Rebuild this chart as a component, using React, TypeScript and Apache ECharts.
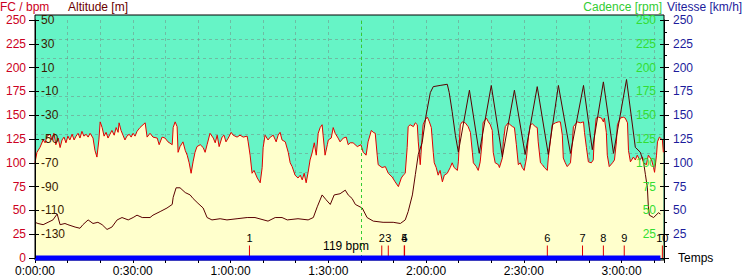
import React, { useEffect, useRef } from "react";
import * as echarts from "echarts";

// Time in minutes, heart rate in bpm
const hrPoints: [number, number][] = [
  [0,100],[0.6,111],[1.5,116],[2.5,124],[3.1,121],[3.7,128],[4.6,130],[5.2,124],[5.8,131],[6.4,119],[7.1,126],[7.7,116],[8.3,124],[8.9,127],[9.5,121],[10.1,128],[10.7,124],[11.4,130],[12.0,124],[12.6,128],[13.2,131],[13.8,126],[14.4,133],[15.0,128],[15.7,130],[16.3,127],[16.9,131],[17.8,126],[18.4,113],[19.0,106],[19.6,124],[20.0,143],[20.6,137],[21.2,128],[21.8,132],[22.4,126],[23.0,130],[23.6,134],[24.3,129],[24.9,137],[25.5,132],[25.8,142],[26.4,134],[27.0,129],[27.6,124],[28.2,128],[28.9,130],[29.5,127],[30.1,131],[30.7,128],[31.3,133],[32.2,137],
  [33.8,142],[34.4,127],[35.3,131],[36.2,127],[37.5,126],[38.1,119],[39.0,127],[39.9,126],[40.8,122],[42.1,119],[42.4,137],[43.0,143],[43.6,138],[43.9,111],[44.5,117],[45.4,122],[46.1,113],[46.7,108],[47.3,100],[47.9,89],[48.5,101],[49.1,111],[49.7,117],[50.7,119],[51.6,116],[52.2,111],[52.8,119],[53.7,131],[54.7,126],[55.3,121],[55.9,129],[56.5,117],[57.4,127],[58.0,129],[58.6,122],[59.3,126],[60.2,132],[60.8,129],[62.0,127],[62.9,129],[63.9,127],[65.1,128],
  [65.4,122],[66.0,108],[66.6,89],[67.2,92],[68.2,84],[69.1,79],[69.7,95],[70.0,116],[70.6,129],[71.5,124],[72.2,127],[73.1,129],[74.0,122],[74.6,129],[75.2,132],[75.8,124],[76.8,122],[77.7,111],[78.3,100],[78.9,96],[79.8,87],[80.7,84],[81.4,87],[82.0,82],[82.6,89],[83.2,79],[83.8,90],[84.4,103],[85.0,110],[85.7,121],[86.3,108],[86.9,131],[87.5,137],[88.1,140],[88.4,129],[89.0,108],[89.7,119],[90.0,124],[90.9,126],[91.5,137],[92.1,131],[93.0,126],[93.6,122],[94.6,126],[95.5,127],[96.1,119],[96.7,121],
  [97.6,121],[98.9,117],[100,119],[100.7,111],[101.6,108],[102.2,122],[103.2,134],[103.8,132],[104.4,131],[105.0,108],[105.3,98],[106.5,95],[107.5,96],[108.4,89],[109.6,85],[110.5,80],[111.5,75],[112.4,84],[113.0,87],[113.6,89],[114.2,116],[114.5,138],[115.1,140],[116.1,138],[116.7,142],[117.3,140],[117.6,122],[118.2,98],[118.8,127],[119.1,140],[119.7,145],[120.4,148],[121.0,143],[121.6,137],[122.2,111],[122.5,100],[123.1,95],[123.7,87],[124.3,92],[125.0,80],[125.6,87],[126.5,89],[127.4,95],[128.0,100],[128.6,95],[129.6,92],
  [129.9,101],[130.5,140],[131.1,143],[132.0,142],[132.9,138],[133.6,132],[134.2,111],[134.5,100],[135.4,96],[136.0,92],[136.6,101],[137.2,122],[137.5,142],[138.5,147],[139.1,143],[139.7,140],[140.3,134],[140.6,111],[141.2,100],[142.2,98],[142.5,95],[143.4,105],[143.7,122],[144.3,138],[145.2,142],[145.8,140],[146.5,138],[147.1,137],[147.7,119],[148.3,98],[148.9,100],[149.5,95],[150.1,92],[150.8,105],[151.4,127],[152.0,140],[152.6,141],[153.5,138],[154.1,137],[154.4,122],[155.1,100],[155.7,98],[156.3,95],[157.2,92],[157.5,105],[158.1,122],[158.7,140],[159.7,142],[160.6,143],[161.2,143],[161.8,129],[162.1,105],[162.7,100],[163.3,96],[164.3,100],[164.9,122],[165.2,138],[166.4,143],[167.3,142],[168.3,143],[168.6,132],[169.2,116],[169.8,101],[170.7,100],[171.3,103],[171.6,126],[172.2,147],[172.9,148],[173.8,147],[174.4,143],[174.7,147],[175.3,132],[175.6,108],[176.2,96],[177.2,100],[177.8,103],[178.4,122],[178.7,140],[179.6,147],[180.5,148],[181.1,147],[181.8,142],[182.1,113],[182.7,101],[183.6,106],[184.2,103],[184.8,108],[185.5,103],[186.4,106],[186.7,100],[187.6,98],[188.2,108],[189.2,103],[189.8,95],[190.1,90],[190.7,108],[191.0,122],[191.6,127],[192.5,124],[192.8,111]
];

// Time in minutes, altitude in metres
const altitudePoints: [number, number][] = [
  [0,-120],[0.9,-121],[2.5,-122],[4.0,-120],[5.5,-118],[6.8,-113],[7.7,-122],[9.2,-121],[10.1,-122],[12.3,-124],[13.8,-125],[14.7,-122],[16.3,-118],[17.8,-121],[19.3,-120],[20.6,-122],[22.1,-126],[23.6,-124],[25.2,-118],[26.7,-116],[28.6,-118],[30.1,-116],[31.3,-114],[32.9,-116],[35.3,-116],[36.2,-114],[38.4,-111],[40.5,-108],[42.1,-105],[42.4,-99],[43.3,-91],[44.5,-91],[46.1,-95],[47.6,-97],[48.5,-100],[50.0,-104],[51.6,-108],[52.8,-116],[54.3,-118],[56.8,-117],[58.9,-118],[62.0,-117],[65.1,-116],[67.5,-116],[71.5,-119],[73.7,-116],[75.8,-116],[77.4,-118],[80.7,-117],[83.8,-118],[85.4,-116],[86.6,-107],[88.1,-97],[89.3,-101],[90.6,-105],[91.8,-97],[93.6,-96],[95.2,-93],[96.1,-97],[97.3,-100],[98.3,-105],[100.4,-108],[101.9,-116],[103.8,-119],[106.8,-120],[109.9,-120],[112.1,-121],[113.6,-118],[114.5,-111],[115.8,-97],[116.7,-80],[117.6,-63],[118.8,-53],[120.0,-30],[121.3,-11],[122.2,-6],[124.3,-5],[126.5,-4],[127.1,-11],[128.0,-27],[129.0,-47],[129.9,-61],[133.3,-9],[136.3,-62],[140.0,-5],[143.4,-65],[147.1,-9],[150.4,-63],[154.1,-6],[157.5,-63],[160.6,-5],[164.3,-62],[168.3,-5],[171.0,-59],[174.4,-2],[177.5,-62],[181.5,0],[184.2,-57],[185.7,-61],[186.7,-69],[187.3,-80],[187.9,-91],[188.2,-107],[188.5,-114],[189.8,-116],[191.3,-112],[191.9,-113]
];

// Speed trace (km/h) shown as the blue band at the bottom
const speedPoints: [number, number][] = [[0, 0], [191.9, 0]];

// Lap markers (minutes) and their labels
const lapTimes = [65.8, 106.4, 108.4, 113.3, 113.4, 157.2, 168.0, 174.4, 180.8, 192.5];
const lapLabels = ["1", "2", "3", "4", "5", "6", "7", "8", "9", "10"];
const lapMarkerHeight = 13;

// Cursor
const cursorTime = 100;
const cursorHR = 119;

const hrTicks = { min: 0, max: 250, interval: 25 };
const altTicks = { min: -150, max: 50, interval: 20 };
const timeRange = { min: 0, max: 193, interval: 10, labelEvery: 30 };

const FONT = "Liberation Sans, Arial, sans-serif";

function fmtTime(m: number) {
  const h = Math.floor(m / 60);
  const mm = Math.round(m % 60);
  return `${h}:${mm < 10 ? "0" + mm : mm}:00`;
}

export default function App() {
  const ref = useRef<HTMLDivElement>(null);
  useEffect(() => {
    if (!ref.current) return;
    const chart = echarts.init(ref.current, null, { renderer: "svg" });
    const gridColor = "rgba(120,120,120,0.45)";
    const txt = (text: string, x: number, y: number, fill: string, align: string) => ({
      type: "text",
      x,
      y,
      z: 20,
      style: { text, fill, font: `12px ${FONT}`, align, verticalAlign: "middle", textAlign: align, textVerticalAlign: "middle" },
    });
    const option: any = {
      animation: false,
      backgroundColor: "#ffffff",
      grid: { left: 35, right: 78, top: 20, bottom: 19, containLabel: false },
      graphic: [
        {
          type: "rect",
          z: -10,
          shape: { x: 35, y: 15, width: 629, height: 245 },
          style: { fill: "#66F4C6", stroke: "#000000", lineWidth: 1 },
        },
        txt("FC / bpm", 0, 7, "#CC0022", "left"),
        txt("Altitude [m]", 68, 7, "#6A0000", "left"),
        txt("Cadence [rpm]", 662, 7, "#33CC33", "right"),
        txt("Vitesse [km/h]", 667, 7, "#1C1C9C", "left"),
        txt(`${cursorHR} bpm`, 346, 246, "#000000", "center"),
      ],
      xAxis: [
        {
          type: "value",
          min: timeRange.min,
          max: timeRange.max,
          interval: timeRange.interval,
          offset: 2,
          name: "Temps",
          nameLocation: "end",
          nameGap: 14,
          nameTextStyle: { color: "#000", fontSize: 12, fontFamily: FONT },
          axisLine: { show: true, lineStyle: { color: "#000", width: 1 } },
          axisTick: { show: true, length: 5, lineStyle: { color: "#000" } },
          axisLabel: {
            color: "#000",
            fontSize: 12,
            fontFamily: FONT,
            margin: 5,
            formatter: (v: number) => (Math.abs(v % timeRange.labelEvery) < 1e-6 ? fmtTime(v) : ""),
          },
          splitLine: { show: true, lineStyle: { color: gridColor, type: [3, 3], width: 1 } },
        },
      ],
      yAxis: [
        {
          type: "value",
          position: "left",
          z: 10,
          min: hrTicks.min,
          max: hrTicks.max,
          interval: hrTicks.interval,
          axisLine: { show: true, lineStyle: { color: "#000" } },
          axisTick: { show: true, inside: false, length: 6, lineStyle: { color: "#000" } },
          axisLabel: { color: "#CC0022", fontSize: 12, fontFamily: FONT, margin: 9 },
          splitLine: { show: false },
        },
        {
          type: "value",
          position: "left",
          z: 10,
          min: altTicks.min,
          max: altTicks.max,
          interval: altTicks.interval,
          axisLine: { show: false },
          axisTick: { show: true, inside: true, length: 4, lineStyle: { color: "#000" } },
          axisLabel: { inside: true, color: "#3A1A00", fontSize: 12, fontFamily: FONT, margin: 6, showMinLabel: false },
          splitLine: { show: false },
        },
        {
          type: "value",
          position: "right",
          z: 10,
          min: hrTicks.min,
          max: hrTicks.max,
          interval: hrTicks.interval,
          axisLine: { show: true, lineStyle: { color: "#000" } },
          axisTick: { show: true, inside: true, length: 4, lineStyle: { color: "#000" } },
          axisLabel: { inside: true, color: "#33DD33", fontSize: 12, fontFamily: FONT, margin: 8, showMinLabel: false },
          splitLine: { show: false },
        },
        {
          type: "value",
          position: "right",
          z: 10,
          min: hrTicks.min,
          max: hrTicks.max,
          interval: hrTicks.interval,
          axisLine: { show: false },
          axisTick: { show: true, inside: false, length: 5, lineStyle: { color: "#000" } },
          minorTick: { show: true, splitNumber: 2, length: 3, lineStyle: { color: "#000" } },
          axisLabel: { color: "#1C1C9C", fontSize: 12, fontFamily: FONT, margin: 9, showMinLabel: false },
          splitLine: { show: false },
        },
        {
          type: "value",
          position: "left",
          inverse: true,
          min: 0,
          max: 250,
          interval: 20,
          axisLine: { show: false },
          axisTick: { show: false },
          axisLabel: { show: false },
          splitLine: { show: true, showMinLine: false, showMaxLine: false, lineStyle: { color: gridColor, type: [3, 3], width: 1 } },
        },
      ],
      series: [
        {
          name: "FC",
          type: "line",
          xAxisIndex: 0,
          yAxisIndex: 0,
          data: hrPoints,
          symbol: "none",
          z: 3,
          lineStyle: { color: "#E00000", width: 1 },
          areaStyle: { color: "#FFFFCC", opacity: 1 },
        },
        {
          name: "Altitude",
          type: "line",
          xAxisIndex: 0,
          yAxisIndex: 1,
          data: altitudePoints,
          symbol: "none",
          z: 4,
          lineStyle: { color: "#5A0000", width: 1 },
        },
        {
          name: "Tours",
          type: "bar",
          xAxisIndex: 0,
          yAxisIndex: 0,
          barWidth: 1,
          z: 5,
          data: lapTimes.map((t, i) => ({ value: [t, lapMarkerHeight], name: lapLabels[i] })),
          itemStyle: { color: "#E00000" },
          label: {
            show: true,
            position: "top",
            distance: 2,
            color: "#000",
            fontSize: 11,
            fontFamily: FONT,
            formatter: (p: any) => p.name,
          },
        },
        {
          name: "Vitesse",
          type: "line",
          xAxisIndex: 0,
          yAxisIndex: 3,
          data: speedPoints,
          symbol: "none",
          clip: false,
          z: 6,
          lineStyle: { color: "#0000FF", width: 5, cap: "butt" },
          markLine: {
            silent: true,
            symbol: "none",
            label: { show: false },
            lineStyle: { color: "#33CC33", type: [3, 3], width: 1 },
            data: [{ xAxis: cursorTime }],
          },
        },
      ],
    };
    chart.setOption(option);
    return () => chart.dispose();
  }, []);
  return (
    <div
      ref={ref}
      style={{ position: "fixed", left: 0, top: 0, width: 742, height: 277 }}
    />
  );
}
